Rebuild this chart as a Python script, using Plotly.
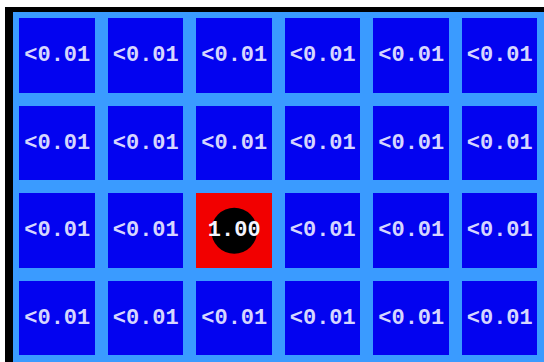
import plotly.graph_objects as go

# Data (rows top to bottom, columns left to right)
col_idx = [0, 1, 2, 3, 4, 5]
row_idx = [0, 1, 2, 3]
values = [
    [0.0, 0.0, 0.0, 0.0, 0.0, 0.0],
    [0.0, 0.0, 0.0, 0.0, 0.0, 0.0],
    [0.0, 0.0, 1.0, 0.0, 0.0, 0.0],
    [0.0, 0.0, 0.0, 0.0, 0.0, 0.0],
]

def fmt(v):
    return "<0.01" if v < 0.01 else f"{v:.2f}"

labels = [[fmt(v) for v in row] for row in values]

DARK_BLUE = "#0303f0"
LIGHT_BLUE = "#3a9bff"
RED = "#f20000"

fig = go.Figure()
fig.add_trace(go.Heatmap(
    z=values, x=col_idx, y=row_idx,
    colorscale=[[0, DARK_BLUE], [1, RED]], zmin=0, zmax=1,
    showscale=False, xgap=13, ygap=13, hoverinfo="skip",
))

# black circle marking the maximum cell
max_pts = [(c, r) for r, row in enumerate(values) for c, v in enumerate(row) if v >= 0.5]
fig.add_trace(go.Scatter(
    x=[p[0] for p in max_pts], y=[p[1] for p in max_pts], mode="markers",
    marker=dict(size=46, color="black", line=dict(width=0)),
    hoverinfo="skip", showlegend=False,
))

tx, ty, tt, tc = [], [], [], []
for r, row in enumerate(values):
    for c, v in enumerate(row):
        tx.append(c); ty.append(r); tt.append(labels[r][c])
        tc.append("#f4f4ff" if v >= 0.5 else "#d6d6ff")
fig.add_trace(go.Scatter(
    x=tx, y=ty, text=tt, mode="text",
    textfont=dict(family="Liberation Mono", size=22, color=tc, weight="bold"),
    hoverinfo="skip", showlegend=False,
))

fig.update_layout(
    width=544, height=362,
    margin=dict(l=13, r=0, t=12, b=0),
    paper_bgcolor="white", plot_bgcolor=LIGHT_BLUE,
    showlegend=False,
    xaxis=dict(range=[-0.5, 5.5], side="top", showline=True, linewidth=5,
               linecolor="black", showgrid=False, zeroline=False,
               showticklabels=False, ticks="", fixedrange=True),
    yaxis=dict(range=[3.5, -0.5], showline=True, linewidth=8,
               linecolor="black", showgrid=False, zeroline=False,
               showticklabels=False, ticks="", fixedrange=True),
)

fig.write_html(
    "out.html",
    config={"displayModeBar": False},
    post_script="document.body.style.margin='0';document.body.style.overflow='hidden';",
)
